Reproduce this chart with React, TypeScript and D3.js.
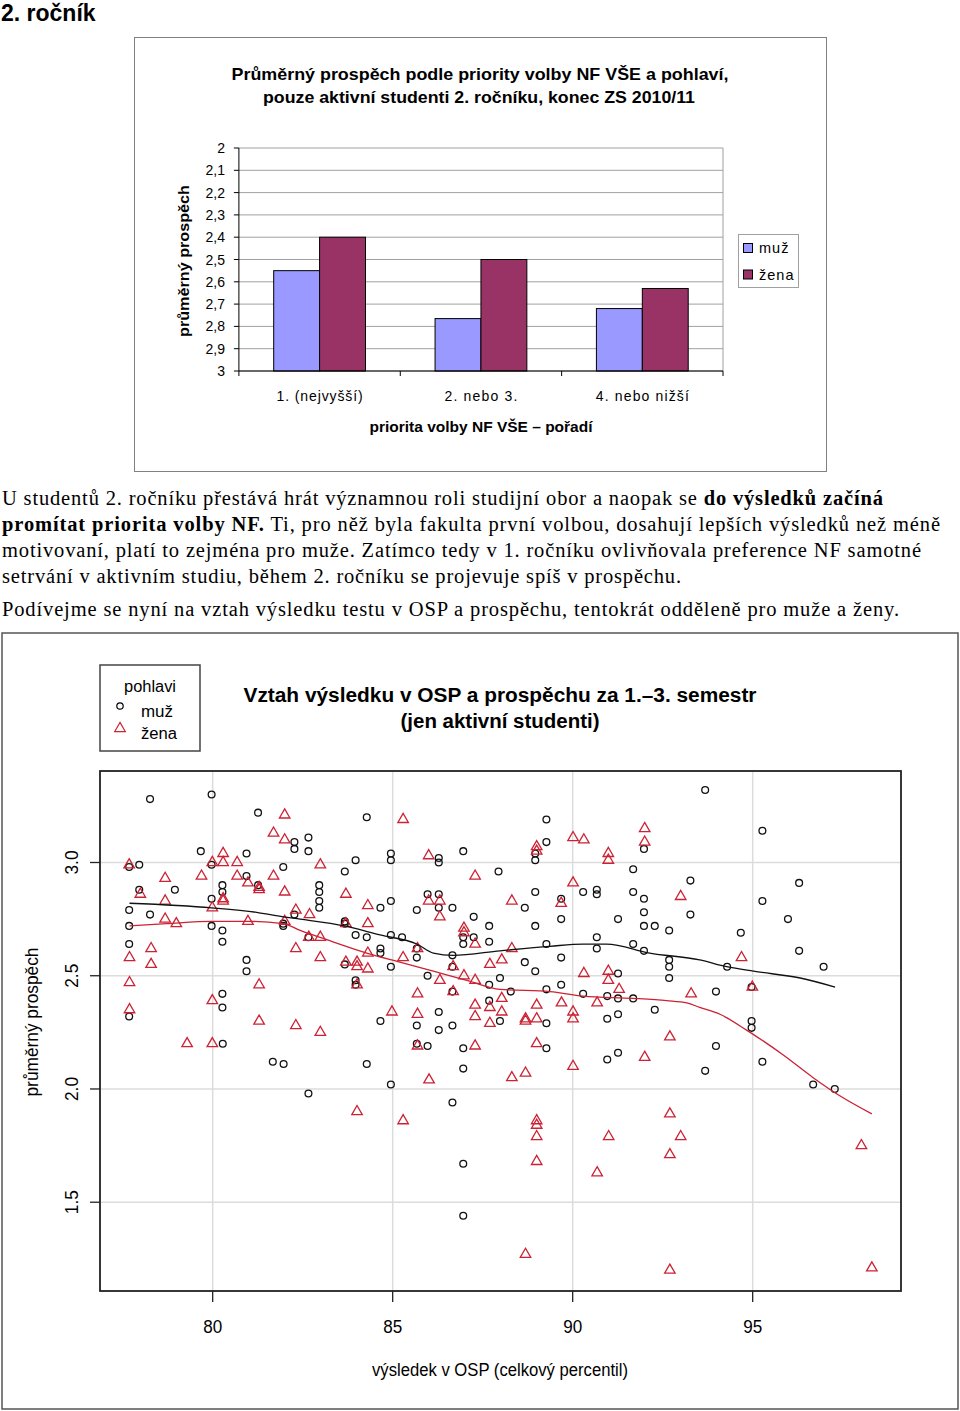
import React from 'react';
import * as d3 from 'd3';

// ---------- Bar chart data ----------
const barCategories = ['1. (nejvyšší)', '2. nebo 3.', '4. nebo nižší'];
const barSeries = ['muž', 'žena'];
const barMale = [2.55, 2.765, 2.72];
const barFemale = [2.40, 2.50, 2.63];
const barTicks = [2, 2.1, 2.2, 2.3, 2.4, 2.5, 2.6, 2.7, 2.8, 2.9, 3];
const barColors = ['#9999FF', '#993366'];

// ---------- Scatter data ----------
const scatterXTicks = [80, 85, 90, 95];
const scatterYTicks = [1.5, 2.0, 2.5, 3.0];

const malePoints: [number, number][] = [
  [78.26, 3.28], [79.97, 3.30], [81.26, 3.22], [82.27, 3.09], [82.27, 3.06], [79.67, 3.05], [80.94, 3.04],
  [77.96, 2.99], [77.68, 2.98], [79.97, 2.99], [81.96, 2.98], [80.94, 2.94], [80.27, 2.90], [77.96, 2.88],
  [78.95, 2.88], [80.27, 2.87], [81.26, 2.90], [79.97, 2.84], [77.68, 2.79], [78.26, 2.77], [82.27, 2.77],
  [77.68, 2.72], [79.97, 2.72], [81.96, 2.73], [81.96, 2.72], [80.27, 2.70], [80.27, 2.65], [77.68, 2.64],
  [80.94, 2.57], [80.94, 2.52], [80.27, 2.42], [80.27, 2.36], [77.68, 2.32],
  [84.28, 3.20], [82.66, 3.11], [82.66, 3.05], [84.95, 3.04], [84.95, 3.01], [86.28, 3.02], [86.28, 3.00],
  [86.96, 3.05], [83.97, 3.01], [83.67, 2.96], [87.94, 2.96], [82.96, 2.90], [82.96, 2.87], [82.96, 2.83],
  [82.96, 2.80], [85.97, 2.86], [86.28, 2.86], [84.95, 2.83], [84.66, 2.80], [85.67, 2.79], [86.28, 2.80],
  [86.66, 2.80], [87.25, 2.76], [83.67, 2.74], [83.67, 2.73], [87.68, 2.72], [83.97, 2.68], [84.28, 2.67],
  [84.95, 2.68], [85.26, 2.67], [86.96, 2.67], [86.96, 2.64], [87.25, 2.67], [87.68, 2.65], [82.66, 2.67],
  [84.66, 2.62], [84.66, 2.60], [85.67, 2.62], [85.67, 2.58], [86.66, 2.59], [83.67, 2.55], [84.95, 2.54],
  [86.66, 2.54], [85.97, 2.50], [83.97, 2.48], [83.97, 2.46], [87.68, 2.46], [86.66, 2.43], [87.68, 2.39],
  [86.28, 2.34], [84.66, 2.30], [85.67, 2.28], [86.28, 2.26], [86.66, 2.28], [87.98, 2.30],
  [89.27, 3.19], [89.27, 3.09], [88.96, 3.04], [88.96, 3.01], [91.98, 3.06], [91.68, 2.97], [88.96, 2.87],
  [90.29, 2.87], [90.67, 2.88], [90.67, 2.86], [91.68, 2.87], [93.27, 2.92], [89.68, 2.84], [91.98, 2.84],
  [88.67, 2.80], [89.68, 2.75], [91.26, 2.75], [91.98, 2.78], [93.27, 2.77], [88.96, 2.72], [91.98, 2.72],
  [92.28, 2.72], [92.68, 2.70], [89.27, 2.64], [90.67, 2.67], [90.67, 2.62], [91.68, 2.64], [91.98, 2.61],
  [89.68, 2.58], [88.67, 2.56], [88.96, 2.52], [92.68, 2.57], [92.68, 2.54], [92.68, 2.49], [87.98, 2.49],
  [91.26, 2.51], [89.68, 2.46], [88.28, 2.43], [89.27, 2.44], [90.29, 2.42], [90.96, 2.41], [91.26, 2.40],
  [91.68, 2.40], [92.28, 2.35], [90.96, 2.31], [91.26, 2.33], [89.27, 2.29],
  [93.68, 3.32], [95.27, 3.14], [96.29, 2.91], [95.27, 2.83], [95.98, 2.75], [94.67, 2.69], [96.29, 2.61],
  [94.29, 2.54], [96.97, 2.54], [94.97, 2.45], [93.98, 2.43], [94.97, 2.30], [94.97, 2.27],
  [80.28, 2.20], [81.67, 2.12], [81.97, 2.11], [85.67, 2.20], [85.97, 2.19], [86.96, 2.18], [84.28, 2.11],
  [86.96, 2.09], [84.95, 2.02], [82.66, 1.98], [86.66, 1.94], [86.96, 1.67], [86.96, 1.44], [89.27, 2.18],
  [90.96, 2.13], [91.26, 2.16], [93.98, 2.19], [93.68, 2.08], [95.27, 2.12], [96.68, 2.02], [97.28, 2.00],
];

const femalePoints: [number, number][] = [
  [82.00, 3.21], [81.69, 3.13], [82.00, 3.10], [80.29, 3.04], [77.68, 2.99], [79.99, 3.00], [80.29, 3.00],
  [80.68, 3.00], [78.68, 2.93], [79.69, 2.94], [80.68, 2.94], [81.69, 2.94], [80.98, 2.91], [81.29, 2.89],
  [81.29, 2.88], [77.99, 2.86], [82.00, 2.87], [80.29, 2.84], [80.29, 2.83], [78.68, 2.83], [79.99, 2.80],
  [82.31, 2.79], [78.68, 2.75], [78.99, 2.73], [80.98, 2.74], [82.00, 2.74], [78.29, 2.62], [77.69, 2.58],
  [82.31, 2.62], [78.29, 2.55], [77.69, 2.47], [81.29, 2.46], [79.99, 2.39], [77.69, 2.35], [81.29, 2.30],
  [82.31, 2.28],
  [85.29, 3.19], [86.00, 3.03], [82.99, 2.99], [87.29, 2.94], [83.70, 2.86], [84.31, 2.81], [86.00, 2.83],
  [86.31, 2.83], [82.69, 2.77], [86.31, 2.76], [83.70, 2.73], [84.31, 2.73], [86.98, 2.71], [86.98, 2.69],
  [87.29, 2.64], [82.67, 2.67], [82.99, 2.67], [85.69, 2.62], [84.31, 2.60], [82.99, 2.58], [85.29, 2.58],
  [83.70, 2.56], [84.01, 2.56], [84.01, 2.54], [84.31, 2.53], [86.68, 2.54], [87.70, 2.55], [86.98, 2.50],
  [87.29, 2.48], [86.31, 2.48], [84.01, 2.46], [85.69, 2.42], [86.68, 2.43], [88.03, 2.40], [87.29, 2.37],
  [87.70, 2.36], [84.98, 2.34], [85.69, 2.33], [87.29, 2.32], [87.70, 2.29], [82.99, 2.25],
  [92.00, 3.15], [90.01, 3.11], [90.31, 3.10], [92.00, 3.09], [89.00, 3.07], [89.00, 3.05], [90.99, 3.04],
  [90.99, 3.01], [90.01, 2.91], [88.31, 2.83], [89.68, 2.82], [93.00, 2.85], [88.31, 2.62], [88.03, 2.57],
  [90.31, 2.51], [90.99, 2.52], [90.99, 2.48], [91.29, 2.44], [93.29, 2.42], [89.69, 2.38], [90.68, 2.38],
  [89.00, 2.37], [88.03, 2.34], [90.01, 2.34], [90.01, 2.31], [88.69, 2.31], [88.69, 2.30], [89.00, 2.31],
  [94.69, 2.58], [94.99, 2.45],
  [79.29, 2.20], [79.99, 2.20], [85.69, 2.19], [87.29, 2.19], [86.01, 2.04], [84.01, 1.90], [85.29, 1.86],
  [89.00, 2.20], [92.00, 2.14], [92.70, 2.23], [90.01, 2.10], [88.69, 2.07], [88.31, 2.05], [92.70, 1.89],
  [89.00, 1.86], [89.00, 1.84], [89.00, 1.79], [91.00, 1.79], [93.00, 1.79], [92.70, 1.71], [89.00, 1.68],
  [90.68, 1.63], [88.69, 1.27], [92.70, 1.20], [98.02, 1.75], [98.31, 1.21],
];

const maleLoess: [number, number][] = [
  [77.69, 2.82], [79.97, 2.80], [81.22, 2.78], [81.96, 2.76], [82.43, 2.75], [83.67, 2.72], [84.65, 2.68],
  [85.67, 2.64], [86.13, 2.60], [86.68, 2.59], [87.98, 2.61], [89.37, 2.63], [90.29, 2.64], [90.94, 2.64],
  [92.14, 2.60], [93.53, 2.57], [94.28, 2.54], [95.02, 2.52], [96.32, 2.49], [97.29, 2.45],
];

const femaleLoess: [number, number][] = [
  [77.69, 2.72], [78.72, 2.73], [79.97, 2.74], [80.98, 2.74], [81.96, 2.73], [82.43, 2.70], [83.34, 2.65],
  [84.28, 2.60], [85.20, 2.56], [86.13, 2.52], [87.06, 2.48], [87.98, 2.44], [89.37, 2.43], [90.29, 2.41],
  [91.68, 2.40], [92.61, 2.39], [93.17, 2.38], [93.53, 2.36], [94.09, 2.33], [94.83, 2.26], [95.85, 2.15],
  [96.68, 2.05], [97.42, 1.97], [98.31, 1.89],
];

const SANS = '"Liberation Sans", Arial, sans-serif';
const SERIF = '"Liberation Serif", "Times New Roman", serif';
const RED = '#cc2233';

function BarChart() {
  const y = d3.scaleLinear().domain([2, 3]).range([148, 371]);
  const x = d3.scaleBand().domain(barCategories).range([238.9, 723]).padding(0);
  const sub = d3.scaleBand().domain(barSeries).range([0, x.bandwidth()]).paddingInner(0).paddingOuter(0.758);
  const values = [barMale, barFemale];
  const [x0, x1] = x.range();
  const yb = y(3);
  return (
    <g>
      <rect x={134.5} y={37.5} width={692} height={434} fill="#fff" stroke="#808080" strokeWidth={1} />
      <text x={480} y={80} textAnchor="middle" fontFamily={SANS} fontWeight="bold" fontSize={16.5}
        textLength={497} lengthAdjust="spacingAndGlyphs">Průměrný prospěch podle priority volby NF VŠE a pohlaví,</text>
      <text x={479} y={103} textAnchor="middle" fontFamily={SANS} fontWeight="bold" fontSize={16.5}
        textLength={432} lengthAdjust="spacingAndGlyphs">pouze aktivní studenti 2. ročníku, konec ZS 2010/11</text>
      {barTicks.map((t) => (
        <line key={'g' + t} x1={x0} x2={x1} y1={y(t)} y2={y(t)} stroke="#a0a0a0" strokeWidth={1} />
      ))}
      <line x1={x1} x2={x1} y1={y(2)} y2={yb} stroke="#a0a0a0" strokeWidth={1} />
      {barCategories.map((c, i) =>
        barSeries.map((s, j) => {
          const v = values[j][i];
          return (
            <rect key={c + s} x={(x(c) as number) + (sub(s) as number)} y={y(v)} width={sub.bandwidth()}
              height={yb - y(v)} fill={barColors[j]} stroke="#000" strokeWidth={1} />
          );
        })
      )}
      <line x1={x0} x2={x0} y1={y(2)} y2={yb} stroke="#000" strokeWidth={1} />
      <line x1={x0} x2={x1} y1={yb} y2={yb} stroke="#000" strokeWidth={1} />
      {barTicks.map((t) => (
        <g key={'t' + t}>
          <line x1={x0 - 5} x2={x0} y1={y(t)} y2={y(t)} stroke="#000" />
          <text x={225} y={y(t) + 5} textAnchor="end" fontFamily={SANS} fontSize={14}>
            {String(Math.round(t * 10) / 10).replace('.', ',')}
          </text>
        </g>
      ))}
      {[...barCategories.map((c) => x(c) as number), x1].map((p, i) => (
        <line key={'xt' + i} x1={p} x2={p} y1={yb} y2={yb + 5} stroke="#000" />
      ))}
      {barCategories.map((c, i) => (
        <text key={'xl' + c} x={(x(c) as number) + x.bandwidth() / 2} y={401} textAnchor="middle" fontFamily={SANS}
          fontSize={14} textLength={[86, 73, 93][i]} lengthAdjust="spacing">{c}</text>
      ))}
      <text x={481} y={432} textAnchor="middle" fontFamily={SANS} fontWeight="bold" fontSize={15}
        textLength={223} lengthAdjust="spacingAndGlyphs">priorita volby NF VŠE – pořadí</text>
      <text transform="translate(189,261) rotate(-90)" textAnchor="middle" fontFamily={SANS} fontWeight="bold"
        fontSize={15.5} textLength={152} lengthAdjust="spacingAndGlyphs">průměrný prospěch</text>
      <rect x={738.5} y={234.5} width={60} height={53} fill="#fff" stroke="#a0a0a0" />
      {barSeries.map((s, j) => (
        <g key={'lg' + s}>
          <rect x={743.5} y={243.5 + j * 26.5} width={9} height={9} fill={barColors[j]} stroke="#000" />
          <text x={759} y={253 + j * 26.5} fontFamily={SANS} fontSize={14.5} letterSpacing={1}>{s}</text>
        </g>
      ))}
    </g>
  );
}

function Paragraph() {
  const base = { fontFamily: SERIF, fontSize: 20.5, fill: '#000' } as const;
  return (
    <g>
      <text x={2} y={505} {...base} textLength={881} lengthAdjust="spacing">
        U studentů 2. ročníku přestává hrát významnou roli studijní obor a naopak se{' '}
        <tspan fontWeight="bold">do výsledků začíná</tspan>
      </text>
      <text x={2} y={531} {...base} textLength={938} lengthAdjust="spacing">
        <tspan fontWeight="bold">promítat priorita volby NF.</tspan> Ti, pro něž byla fakulta první volbou, dosahují lepších výsledků než méně
      </text>
      <text x={2} y={557} {...base} textLength={919} lengthAdjust="spacing">
        motivovaní, platí to zejména pro muže. Zatímco tedy v 1. ročníku ovlivňovala preference NF samotné
      </text>
      <text x={2} y={583} {...base} textLength={679} lengthAdjust="spacing">
        setrvání v aktivním studiu, během 2. ročníku se projevuje spíš v prospěchu.
      </text>
      <text x={2} y={616} {...base} textLength={897} lengthAdjust="spacing">
        Podívejme se nyní na vztah výsledku testu v OSP a prospěchu, tentokrát odděleně pro muže a ženy.
      </text>
    </g>
  );
}

function Scatter() {
  const x = d3.scaleLinear().domain([76.87, 99.12]).range([100, 901]);
  const y = d3.scaleLinear().domain([1.108, 3.404]).range([1291, 771]);
  const tri = d3.symbol(d3.symbolTriangle, 48);
  const line = d3.line<[number, number]>().x((d) => x(d[0])).y((d) => y(d[1])).curve(d3.curveMonotoneX);
  const [px0, px1] = x.range();
  const [py0, py1] = y.range();
  return (
    <g>
      <rect x={2} y={633} width={956} height={776} fill="#fff" stroke="#555" strokeWidth={1.5} />
      <rect x={100} y={665} width={100} height={86} fill="#fff" stroke="#444" strokeWidth={1.5} />
      <text x={150} y={692} textAnchor="middle" fontFamily={SANS} fontSize={16} textLength={52}
        lengthAdjust="spacingAndGlyphs">pohlavi</text>
      <circle cx={120} cy={706} r={3.2} fill="none" stroke="#000" strokeWidth={1.2} />
      <text x={141} y={717} fontFamily={SANS} fontSize={16} textLength={32} lengthAdjust="spacingAndGlyphs">muž</text>
      <path d={tri() as string} transform="translate(120,728.5)" fill="none" stroke={RED} strokeWidth={1.2} />
      <text x={141} y={739} fontFamily={SANS} fontSize={16} textLength={36} lengthAdjust="spacingAndGlyphs">žena</text>
      <text x={500} y={702} textAnchor="middle" fontFamily={SANS} fontWeight="bold" fontSize={20}
        textLength={513} lengthAdjust="spacingAndGlyphs">Vztah výsledku v OSP a prospěchu za 1.–3. semestr</text>
      <text x={500} y={728} textAnchor="middle" fontFamily={SANS} fontWeight="bold" fontSize={20}
        textLength={199} lengthAdjust="spacingAndGlyphs">(jen aktivní studenti)</text>

      {scatterXTicks.map((t) => (
        <line key={'gx' + t} x1={x(t)} x2={x(t)} y1={py1} y2={py0} stroke="#dcdcdc" strokeWidth={1.5} />
      ))}
      {scatterYTicks.map((t) => (
        <line key={'gy' + t} x1={px0} x2={px1} y1={y(t)} y2={y(t)} stroke="#dcdcdc" strokeWidth={1.5} />
      ))}

      {malePoints.map((p, i) => (
        <circle key={'m' + i} cx={x(p[0])} cy={y(p[1])} r={3.4} fill="none" stroke="#111" strokeWidth={1.3} />
      ))}
      {femalePoints.map((p, i) => (
        <path key={'f' + i} d={tri() as string} transform={`translate(${x(p[0])},${y(p[1])})`} fill="none"
          stroke={RED} strokeWidth={1.3} />
      ))}
      <path d={line(maleLoess) as string} fill="none" stroke="#111" strokeWidth={1.3} />
      <path d={line(femaleLoess) as string} fill="none" stroke={RED} strokeWidth={1.3} />

      <rect x={px0} y={py1} width={px1 - px0} height={py0 - py1} fill="none" stroke="#222" strokeWidth={1.8} />
      {scatterXTicks.map((t) => (
        <g key={'xt' + t}>
          <line x1={x(t)} x2={x(t)} y1={py0} y2={py0 + 11} stroke="#222" strokeWidth={1.3} />
          <text x={x(t)} y={1333} textAnchor="middle" fontFamily={SANS} fontSize={17.5} textLength={19}
            lengthAdjust="spacingAndGlyphs">{t}</text>
        </g>
      ))}
      {scatterYTicks.map((t) => (
        <g key={'yt' + t}>
          <line x1={px0 - 10} x2={px0} y1={y(t)} y2={y(t)} stroke="#222" strokeWidth={1.3} />
          <text transform={`translate(78,${y(t)}) rotate(-90)`} textAnchor="middle" fontFamily={SANS}
            fontSize={17.5} textLength={24} lengthAdjust="spacingAndGlyphs">{t.toFixed(1)}</text>
        </g>
      ))}
      <text x={500} y={1376} textAnchor="middle" fontFamily={SANS} fontSize={17.5} textLength={256}
        lengthAdjust="spacingAndGlyphs">výsledek v OSP (celkový percentil)</text>
      <text transform="translate(38,1022) rotate(-90)" textAnchor="middle" fontFamily={SANS} fontSize={17.5}
        textLength={149} lengthAdjust="spacingAndGlyphs">průměrný prospěch</text>
    </g>
  );
}

export default function App() {
  return (
    <svg width={960} height={1411} style={{ position: 'absolute', left: 0, top: 0, display: 'block', background: '#fff' }}>
      <rect x={0} y={0} width={960} height={1411} fill="#fff" />
      <text x={1} y={21} fontFamily={SANS} fontWeight="bold" fontSize={23}>2. ročník</text>
      <BarChart />
      <Paragraph />
      <Scatter />
    </svg>
  );
}
